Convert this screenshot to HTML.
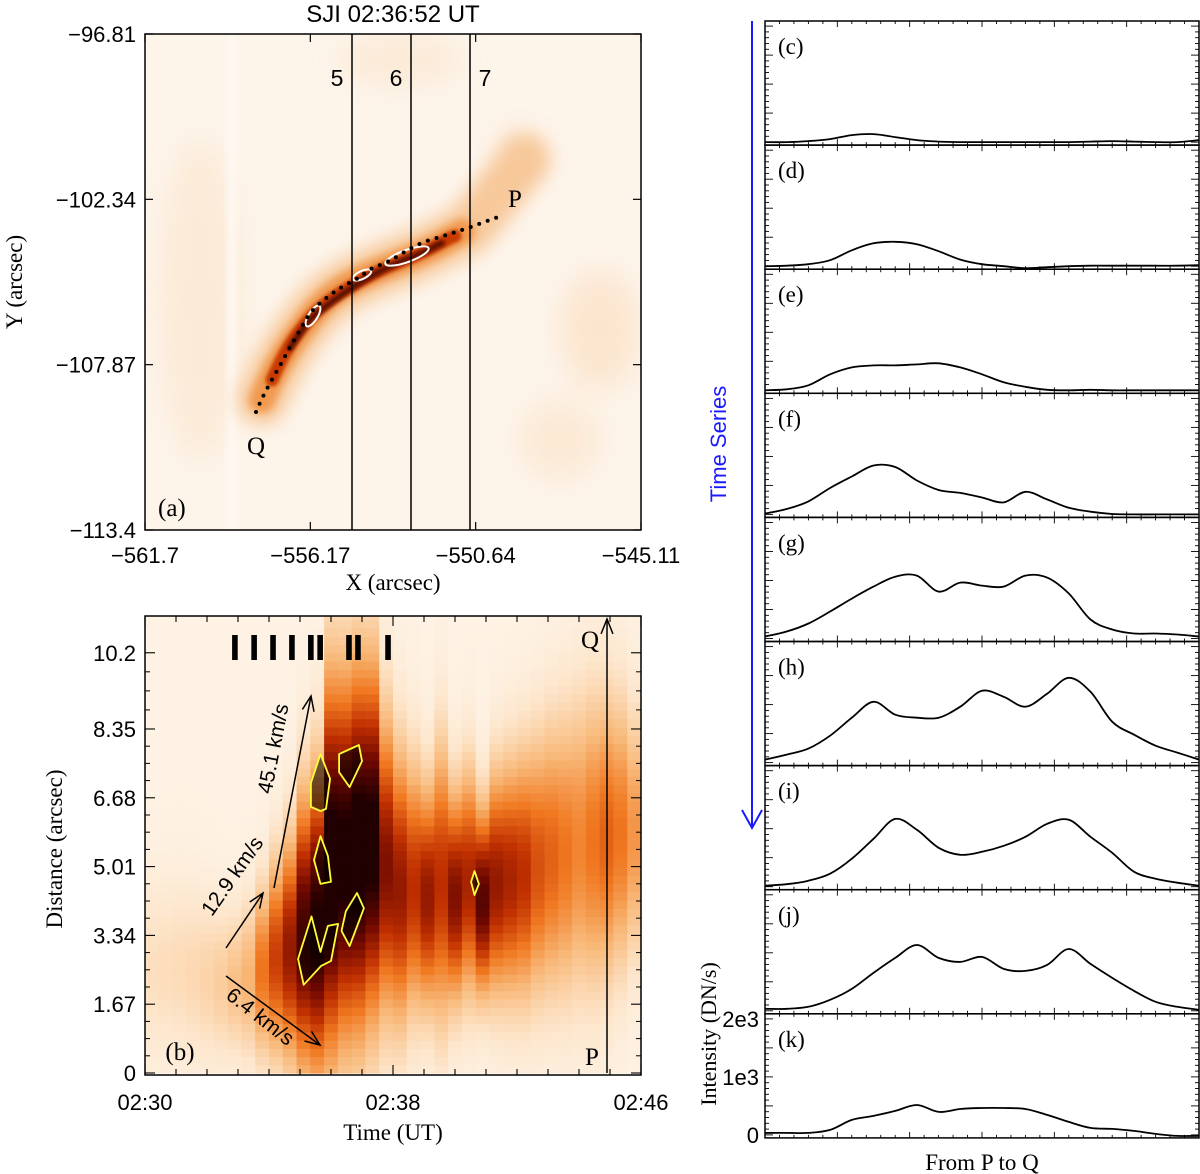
<!DOCTYPE html>
<html><head><meta charset="utf-8">
<style>
html,body{margin:0;padding:0;background:#fff;}
svg{display:block;font-family:"Liberation Sans",sans-serif;}
</style></head>
<body>
<svg id="fig" width="1200" height="1174" viewBox="0 0 1200 1174" xmlns="http://www.w3.org/2000/svg">
<defs>
<filter id="b8" x="-50%" y="-50%" width="200%" height="200%"><feGaussianBlur stdDeviation="9"/></filter>
<filter id="b4" x="-50%" y="-50%" width="200%" height="200%"><feGaussianBlur stdDeviation="4"/></filter>
<filter id="b2" x="-50%" y="-50%" width="200%" height="200%"><feGaussianBlur stdDeviation="1.8"/></filter>
<filter id="b14" x="-50%" y="-50%" width="200%" height="200%"><feGaussianBlur stdDeviation="14"/></filter>
<clipPath id="clipA"><rect x="145" y="34" width="496" height="496"/></clipPath>
<clipPath id="clipB"><rect x="145" y="616" width="496" height="459"/></clipPath>
</defs>

<g>
  <text x="393" y="22" font-size="24" text-anchor="middle">SJI 02:36:52 UT</text>
  <g clip-path="url(#clipA)">
    <rect x="145" y="34" width="496" height="496" fill="#fdf4ea"/>
    <g filter="url(#b14)" opacity="0.7">
      <ellipse cx="200" cy="300" rx="40" ry="160" fill="#fbe6cf"/>
      <ellipse cx="600" cy="330" rx="40" ry="60" fill="#fbe0c4"/>
      <ellipse cx="560" cy="440" rx="40" ry="40" fill="#fbe5cc"/>
      <ellipse cx="400" cy="60" rx="60" ry="25" fill="#fbe6cf"/>
      <ellipse cx="520" cy="150" rx="14" ry="14" fill="#f6c08a"/>
    </g>
    <rect x="228" y="34" width="8" height="496" fill="#fffaf4" filter="url(#b4)"/>
    <path d="M262,400 C272,375 285,350 310,318 S360,278 400,262 S450,238 470,228 L525,160" fill="none" stroke="#f7c89a" stroke-width="50" stroke-linecap="round" filter="url(#b8)"/>
    <path d="M262,400 C272,375 285,350 310,318 S360,278 400,262 S450,238 462,232" fill="none" stroke="#f09a50" stroke-width="26" stroke-linecap="round" filter="url(#b4)"/>
    <path d="M272,380 C285,350 295,335 310,318 S360,278 400,262 S440,242 455,236" fill="none" stroke="#c83a05" stroke-width="13" stroke-linecap="round" filter="url(#b2)"/>
    <path d="M290,348 C300,333 305,325 312,318 S360,278 400,262 S430,248 442,243" fill="none" stroke="#5a0800" stroke-width="6" stroke-linecap="round" filter="url(#b2)"/>
    <ellipse cx="313" cy="316" rx="12" ry="4.5" transform="rotate(-58 313 316)" fill="none" stroke="#fff" stroke-width="2"/>
    <ellipse cx="362" cy="275" rx="10" ry="4" transform="rotate(-25 362 275)" fill="none" stroke="#fff" stroke-width="2"/>
    <ellipse cx="407" cy="256" rx="23" ry="6" transform="rotate(-20 407 256)" fill="none" stroke="#fff" stroke-width="2"/>
    <path d="M256,412 C265,390 275,375 283,360 S300,330 307,318 S335,290 351,282 S365,270 380,265 S410,246 430,240 S455,232 468,228 L498,217" fill="none" stroke="#000" stroke-width="4" stroke-linecap="round" stroke-dasharray="0 9"/>
    <line x1="352" y1="34" x2="352" y2="530" stroke="#000" stroke-width="1.5"/>
    <line x1="411" y1="34" x2="411" y2="530" stroke="#000" stroke-width="1.5"/>
    <line x1="470" y1="34" x2="470" y2="530" stroke="#000" stroke-width="1.5"/>
  </g>
  <rect x="145" y="34" width="496" height="496" fill="none" stroke="#000" stroke-width="1.5"/>
  <g font-size="23">
    <text x="337" y="86" text-anchor="middle">5</text>
    <text x="396" y="86" text-anchor="middle">6</text>
    <text x="485" y="86" text-anchor="middle">7</text>
    <text x="515" y="207" text-anchor="middle" font-family="Liberation Serif,serif" font-size="25">P</text>
    <text x="256" y="454" text-anchor="middle" font-family="Liberation Serif,serif" font-size="25">Q</text>
    <text x="158" y="516" font-family="Liberation Serif,serif" font-size="25">(a)</text>
  </g>
  <g id="axA" font-size="22"></g>
  <text x="393" y="590" font-size="23" text-anchor="middle" font-family="Liberation Serif,serif">X (arcsec)</text>
  <text transform="translate(22,282) rotate(-90)" font-size="23" text-anchor="middle" font-family="Liberation Serif,serif">Y (arcsec)</text>
</g>

<g>
  <g id="heat" clip-path="url(#clipB)"></g>
  <g id="overB"></g>
  <rect x="145" y="616" width="496" height="459" fill="none" stroke="#000" stroke-width="1.5"/>
  <g id="axB" font-size="22"></g>
  <text x="393" y="1140" font-size="23" text-anchor="middle" font-family="Liberation Serif,serif">Time (UT)</text>
  <text transform="translate(62,849) rotate(-90)" font-size="23" text-anchor="middle" font-family="Liberation Serif,serif">Distance (arcsec)</text>
</g>

<g id="right"></g>
<g>
  <line x1="752" y1="21" x2="752" y2="827" stroke="#1a1aff" stroke-width="2"/>
  <polyline points="742,810 752,828 762,810" fill="none" stroke="#1a1aff" stroke-width="2"/>
  <text transform="translate(726,444) rotate(-90)" font-size="22" fill="#1a1aff" text-anchor="middle">Time Series</text>
</g>
<text transform="translate(716,1034) rotate(-90)" font-size="22" text-anchor="middle" font-family="Liberation Serif,serif">Intensity (DN/s)</text>
<text x="982" y="1170" font-size="23" text-anchor="middle" font-family="Liberation Serif,serif">From P to Q</text>
</svg>

<script>
// ===== Panel (a) axis data =====
const aXTicks = [-561.7, -556.17, -550.64, -545.11];
const aYTicks = [-96.81, -102.34, -107.87, -113.4];

// ===== Panel (b) data =====
const bTimeLabels = ["02:30", "02:38", "02:46"];
const bTimeLabelMin = [0, 8, 16];
const bDistTicks = [0, 1.67, 3.34, 5.01, 6.68, 8.35, 10.2];
const colPeak   = [0.12,0.13,0.14,0.15,0.17,0.2,0.25,0.3,0.5,0.65,0.8,1.0,1.1,1.2,1.15,1.2,1.15,0.85,0.8,0.7,0.8,0.7,0.85,0.75,0.95,0.8,0.75,0.7,0.6,0.55,0.5,0.45,0.5,0.55,0.5,0.4];
const colCenter = [2.5,2.5,2.5,2.4,2.3,2.2,2.2,2.3,2.5,2.8,3.0,3.4,3.6,5.0,5.2,5.4,5.6,5.0,4.5,4.5,4.3,4.6,4.3,4.6,4.2,4.6,4.7,4.8,5.0,5.2,5.3,5.5,5.6,5.7,5.8,5.8];
const colSpread = [1.5,1.5,1.5,1.5,1.4,1.3,1.2,1.3,1.4,1.6,1.8,2.2,2.4,3.0,2.9,2.9,2.8,2.4,2.2,2.0,1.8,2.2,1.7,1.8,1.5,1.8,1.9,2.0,2.1,2.2,2.3,2.4,2.4,2.3,2.2,2.0];
const barTimes = [2.9,3.52,4.13,4.74,5.35,5.65,6.58,6.87,7.84];
const contour1T = [5.66,5.97,5.84,5.66,5.35,5.35], contour1D = [7.74,7.14,6.41,6.36,6.46,7.04];
const contour2T = [6.26,6.9,7.0,6.6,6.26], contour2D = [7.74,7.96,7.57,6.94,7.3];
const contour3T = [5.66,5.9,6.0,5.66,5.45], contour3D = [5.75,5.27,4.64,4.59,5.17];
const contour4T = [5.37,5.66,5.9,6.23,6.0,5.68,5.12,4.94], contour4D = [3.8,2.94,3.57,3.62,2.72,2.6,2.14,2.77];
const contour5T = [6.84,7.06,6.6,6.34,6.48], contour5D = [4.37,4.0,3.08,3.45,3.93];
const contour6T = [10.63,10.77,10.63,10.52], contour6D = [4.9,4.59,4.32,4.64];

// ===== Right panels data (intensity DN/s at 21 positions from P to Q) =====
const profileLabels = ["(c)","(d)","(e)","(f)","(g)","(h)","(i)","(j)","(k)"];
const profC = [0,0,17,52,120,138,86,34,9,0,0,0,0,0,0,9,17,9,0,0,34];
const profD = [0,9,34,103,275,395,420,380,258,113,34,0,-34,-17,0,9,9,9,9,9,17];
const profE = [0,17,86,275,395,430,430,447,465,395,275,138,60,9,0,9,0,0,0,0,0];
const profF = [14,93,224,456,654,843,817,585,421,370,292,207,390,258,114,47,7,0,0,0,0];
const profG = [34,120,258,465,688,894,1066,1084,808,964,912,895,1084,1050,775,327,155,86,86,69,34];
const profH = [52,138,241,464,774,1049,826,774,774,963,1238,1135,963,1187,1462,1221,705,482,292,172,52];
const profI = [17,43,103,224,482,826,1169,981,671,550,602,705,860,1084,1153,860,585,258,138,69,17];
const profJ = [34,34,69,189,378,654,912,1135,912,843,929,723,688,791,1066,808,568,344,155,69,17];
const profK = [34,34,34,86,258,327,413,516,396,447,464,464,447,344,224,120,103,69,17,-17,-17];
const profiles = [profC,profD,profE,profF,profG,profH,profI,profJ,profK];
const intensityTickLabels = ["0","1e3","2e3"];
const intensityTickValues = [0,1000,2000];

const NS = "http://www.w3.org/2000/svg";
function mk(tag, attrs, parent){const e=document.createElementNS(NS,tag);for(const k in attrs)e.setAttribute(k,attrs[k]);if(parent)parent.appendChild(e);return e;}

const aX = v => 145 + (v - (-561.7)) / ((-545.11) - (-561.7)) * 496;
const aY = v => 34 + (v - (-96.81)) / ((-113.4) - (-96.81)) * 496;
const axA = document.getElementById('axA');
aXTicks.forEach(v=>{
  const x=aX(v);
  const t1=mk('line',{x1:x,y1:530,x2:x,y2:522,stroke:'#000','stroke-width':1.2},axA);
  
  
  const t2=mk('line',{x1:x,y1:34,x2:x,y2:42,stroke:'#000','stroke-width':1.2},axA);
  
  
  const tx=mk('text',{x:x,y:563,'text-anchor':'middle'},axA);tx.textContent=String(v).replace('-','\u2212');
  
  
});
aYTicks.forEach(v=>{
  const y=aY(v);
  const t1=mk('line',{x1:145,y1:y,x2:153,y2:y,stroke:'#000','stroke-width':1.2},axA);
  
  
  const t2=mk('line',{x1:641,y1:y,x2:633,y2:y,stroke:'#000','stroke-width':1.2},axA);
  
  
  const tx=mk('text',{x:136,y:y+8,'text-anchor':'end'},axA);tx.textContent=String(v).replace('-','\u2212');
  
  
});

const bX = t => 145 + t / 16 * 496;
const bY = d => 1073 - d * 41.2;
const stops=[[0,[254,250,244]],[0.15,[253,230,204]],[0.35,[248,184,120]],[0.55,[240,120,32]],[0.75,[192,48,0]],[0.95,[112,8,0]],[1.15,[32,0,0]]];
function cmap(v){v=Math.max(0,Math.min(1.15,v));for(let i=1;i<stops.length;i++){if(v<=stops[i][0]){const a=stops[i-1],b=stops[i];const f=(v-a[0])/(b[0]-a[0]);const c=a[1].map((x,j)=>Math.round(x+(b[1][j]-x)*f));return 'rgb('+c[0]+','+c[1]+','+c[2]+')';}}return 'rgb(32,0,0)';}
const heat=document.getElementById('heat');
const dt=16/colPeak.length, dd=0.2;
for(let i=0;i<colPeak.length;i++){
  for(let r=0;r<57;r++){
    const d=r*dd+dd/2;
    const z=(d-colCenter[i])/colSpread[i];
    const v=0.06+colPeak[i]*Math.exp(-0.5*z*z);
    const x0=bX(i*dt), x1=bX((i+1)*dt), y0=bY(d+dd/2), y1=bY(d-dd/2);
    const c=mk('rect',{x:x0.toFixed(2),y:y0.toFixed(2),width:(x1-x0+0.6).toFixed(2),height:(y1-y0+0.6).toFixed(2),fill:cmap(v)},heat);
    
    
  }
}
const overB=document.getElementById('overB');
[[contour1T,contour1D],[contour2T,contour2D],[contour3T,contour3D],[contour4T,contour4D],[contour5T,contour5D],[contour6T,contour6D]].forEach(c=>{
  const pts=c[0].map((t,i)=>bX(t).toFixed(1)+','+bY(c[1][i]).toFixed(1)).join(' ');
  const p=mk('polygon',{points:pts,fill:'#000','fill-opacity':0.55,stroke:'#ffff33','stroke-width':1.8,'stroke-linejoin':'round'},overB);
  
  
});
barTimes.forEach(t=>{
  const r=mk('rect',{x:bX(t)-2.8,y:635,width:5.6,height:25,fill:'#000'},overB);
  
  
});
function arrow(x1,y1,x2,y2,name){
  const g=mk('g',{},overB);
  
  
  mk('line',{x1:x1,y1:y1,x2:x2,y2:y2,stroke:'#000','stroke-width':1.5},g);
  const a=Math.atan2(y2-y1,x2-x1),L=16,w=0.38;
  mk('polyline',{points:(x2-L*Math.cos(a-w))+','+(y2-L*Math.sin(a-w))+' '+x2+','+y2+' '+(x2-L*Math.cos(a+w))+','+(y2-L*Math.sin(a+w)),fill:'none',stroke:'#000','stroke-width':1.5},g);
}
arrow(274,888,311,696,'arrow-45-kms');
arrow(226,948,263,893,'arrow-12-kms');
arrow(226,976,320,1045,'arrow-6-kms');
arrow(607,1073,607,619,'arrow-p-to-q');
function txt(s,x,y,rot,size,name,ff){const t=mk('text',{transform:'translate('+x+','+y+') rotate('+rot+')','font-size':size,'text-anchor':'middle','font-family':ff||'Liberation Sans,sans-serif'},overB);t.textContent=s;
  
  }
txt('45.1 km/s',280,750,-79,21,'speed-label-45');
txt('12.9 km/s',238,880,-55,21,'speed-label-12');
txt('6.4 km/s',256,1022,38,21,'speed-label-6');
txt('Q',590,648,0,25,'q-label-b','Liberation Serif,serif');
txt('P',592,1065,0,25,'p-label-b','Liberation Serif,serif');
txt('(b)',180,1060,0,25,'panel-b-label','Liberation Serif,serif');

const axB=document.getElementById('axB');
for(let m=0;m<=16;m++){
  const x=bX(m), L=(m%8===0)?10:6;
  const t1=mk('line',{x1:x,y1:1075,x2:x,y2:1075-L,stroke:'#000','stroke-width':1.1},axB);
  
  
  const t2=mk('line',{x1:x,y1:616,x2:x,y2:616+L,stroke:'#000','stroke-width':1.1},axB);
  
  
}
bTimeLabels.forEach((s,i)=>{
  const t=mk('text',{x:bX(bTimeLabelMin[i]),y:1110,'text-anchor':'middle'},axB);t.textContent=s;
  
  
});
bDistTicks.forEach((d,i)=>{
  const y=bY(d);
  const t1=mk('line',{x1:145,y1:y,x2:155,y2:y,stroke:'#000','stroke-width':1.1},axB);
  
  
  const t2=mk('line',{x1:641,y1:y,x2:631,y2:y,stroke:'#000','stroke-width':1.1},axB);
  
  
  if(i<bDistTicks.length-1){const nd=bDistTicks[i+1];for(let k=1;k<4;k++){const yy=bY(d+(nd-d)*k/4);
    mk('line',{x1:145,y1:yy,x2:150,y2:yy,stroke:'#000','stroke-width':1},axB);
    mk('line',{x1:641,y1:yy,x2:636,y2:yy,stroke:'#000','stroke-width':1},axB);}}
  const tx=mk('text',{x:136,y:y+8,'text-anchor':'end'},axB);tx.textContent=String(d);
  
  
});

const right=document.getElementById('right');
const PX0=765, PX1=1199, PTOP=21, PH=124.1;
const pX = f => PX0 + f * (PX1 - PX0);
const pY = (k, v) => PTOP + (k + 1) * PH - 3 - v * 0.058;
function smooth(pts){let d='M'+pts[0][0]+','+pts[0][1];for(let i=0;i<pts.length-1;i++){const p0=pts[Math.max(0,i-1)],p1=pts[i],p2=pts[i+1],p3=pts[Math.min(pts.length-1,i+2)];
  const c1=[p1[0]+(p2[0]-p0[0])/6,p1[1]+(p2[1]-p0[1])/6],c2=[p2[0]-(p3[0]-p1[0])/6,p2[1]-(p3[1]-p1[1])/6];
  d+=' C'+c1[0].toFixed(1)+','+c1[1].toFixed(1)+' '+c2[0].toFixed(1)+','+c2[1].toFixed(1)+' '+p2[0].toFixed(1)+','+p2[1].toFixed(1);}return d;}
profiles.forEach((prof,k)=>{
  const g=mk('g',{},right);
  
  
  const top=PTOP+k*PH, bot=top+PH;
  for(let i=0;i<=30;i++){const x=PX0+i*(PX1-PX0)/30; const major=(i%5===0);const L=major?6:3;
    mk('line',{x1:x,y1:bot,x2:x,y2:bot-L,stroke:'#000','stroke-width':0.9},g);
    mk('line',{x1:x,y1:top,x2:x,y2:top+L,stroke:'#000','stroke-width':0.9},g);}
  for(let v=0;v<=2100;v+=100){const y=pY(k,v);if(y<top+1)break;const major=(v%500===0);const L=major?8:4;
    mk('line',{x1:PX0,y1:y,x2:PX0+L,y2:y,stroke:'#000','stroke-width':0.9},g);
    mk('line',{x1:PX1,y1:y,x2:PX1-L,y2:y,stroke:'#000','stroke-width':0.9},g);}
  const fr=mk('rect',{x:PX0,y:top,width:PX1-PX0,height:PH,fill:'none',stroke:'#000','stroke-width':1.5},g);
  
  
  const pts=prof.map((v,i)=>[pX(i/(prof.length-1)),pY(k,v)]);
  const line=mk('path',{d:smooth(pts),fill:'none',stroke:'#000','stroke-width':1.8},g);
  
  
  const lb=mk('text',{x:778,y:top+33,'font-size':23,'font-family':'Liberation Serif,serif'},g);lb.textContent=profileLabels[k];
  
  
});
intensityTickValues.forEach((v,i)=>{
  const t=mk('text',{x:759,y:pY(8,v)+8,'text-anchor':'end','font-size':22},right);t.textContent=intensityTickLabels[i];
  
  
});
</script>
</body></html>
